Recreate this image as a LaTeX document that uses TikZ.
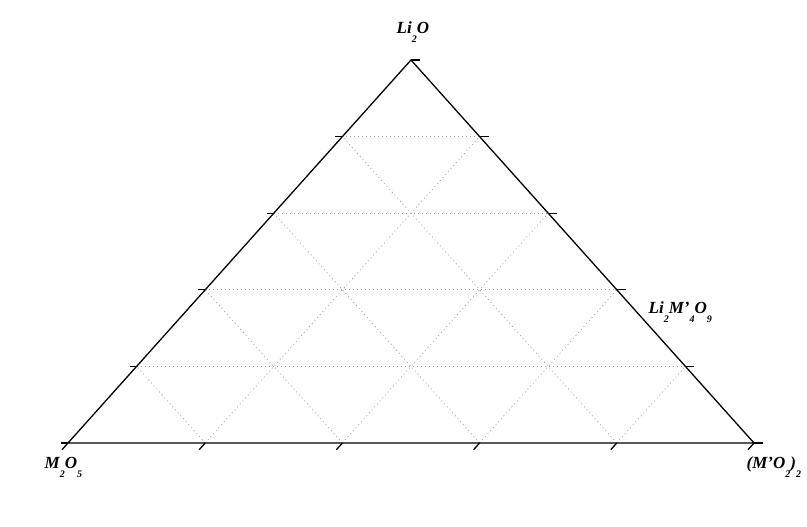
\documentclass[tikz,border=0pt]{standalone}
\usepackage{fontspec}
\setmainfont{Liberation Serif}
\usetikzlibrary{calc}
% tief gesetzter Index wie in der Vorlage
\newcommand{\lowsub}[1]{\raisebox{-0.5em}{\fontsize{10}{10}\selectfont #1}}
\newcommand{\prm}{\char"0027\relax}

\begin{document}
\begin{tikzpicture}[x=1pt,y=1pt,line width=1.3pt]
\tikzset{
  gridline/.style={dash pattern=on 1pt off 3pt,black!35,line width=0.8pt},
  axislabel/.style={font=\fontsize{17}{17}\selectfont\bfseries\itshape,inner sep=0pt,anchor=base west}
}
\useasboundingbox (0,0) rectangle (807,527);
% Eckpunkte
\coordinate (A) at (68,84);
\coordinate (B) at (754,84);
\coordinate (C) at (411,467);
% ---------- Gitter ----------
\foreach \k in {1,...,4}{
  \pgfmathsetmacro\f{\k/5}
  \pgfmathsetmacro\g{1-\k/5}
  \draw[gridline] ($(A)!\f!(C)$) -- ($(B)!\f!(C)$);
  \draw[gridline] ($(A)!\f!(B)$) -- ($(A)!\f!(C)$);
  \draw[gridline] ($(A)!\f!(B)$) -- ($(B)!\g!(C)$);
}
% ---------- Dreieck ----------
\draw (A) -- (B) -- (C) -- cycle;
% ---------- Teilstriche ----------
\foreach \k in {0,...,5}{
  \pgfmathsetmacro\f{\k/5}
  \draw ($(A)!\f!(B)$) -- ++(-6,-6.7);
  \draw ($(B)!\f!(C)$) -- ++(9,0);
}
\foreach \k in {0,...,4}{
  \pgfmathsetmacro\f{\k/5}
  \draw ($(A)!\f!(C)$) -- ++(-7,0);
}
% ---------- Beschriftung ----------
\node[axislabel] (li2o) at (396,493) {Li\lowsub{2}O};
\node[axislabel] (m2o5) at (44,58) {M\lowsub{2}O\lowsub{5}};
\node[axislabel] (mo2) at (746,58) {(M\prm O\lowsub{2})\lowsub{2}};
\node[axislabel] (limo) at (648,213) {Li\lowsub{2}M\prm\lowsub{4}O\lowsub{9}};
\end{tikzpicture}
\end{document}
